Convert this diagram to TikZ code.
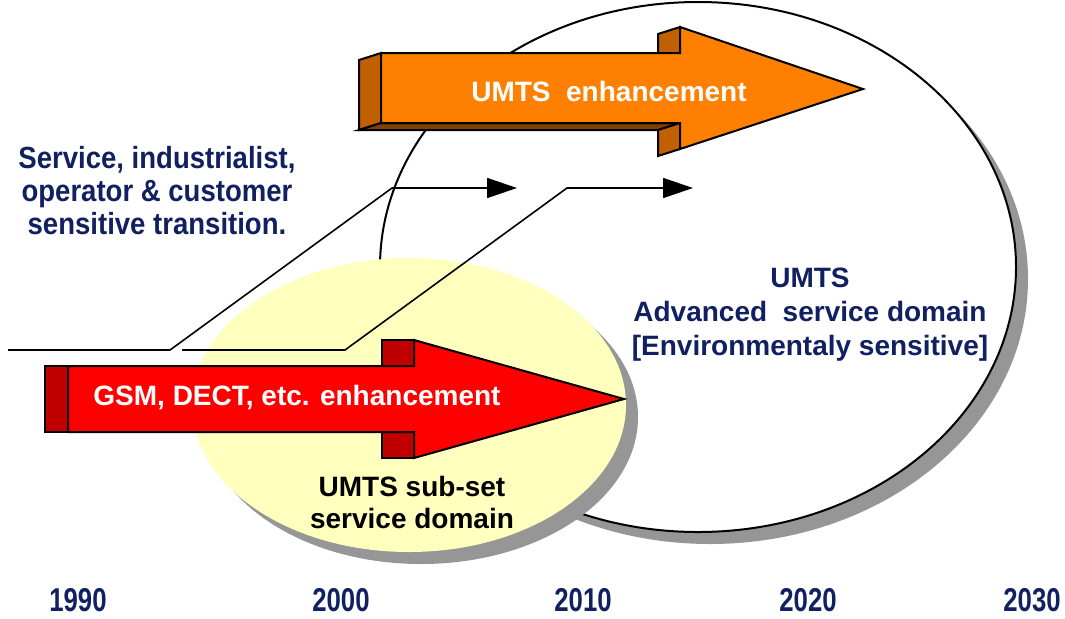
\documentclass[tikz,border=0pt]{standalone}
\usepackage{fontspec}
\setmainfont{Liberation Sans}
\newfontfamily\yearfont{Liberation Sans}[FakeStretch=0.78]
\newfontfamily\narrowfont{Liberation Sans}[FakeStretch=0.9]
\usetikzlibrary{arrows.meta,shapes.geometric,shadows}

\definecolor{navy}{RGB}{16,32,96}
\definecolor{umtsorange}{RGB}{255,128,0}
\definecolor{orangeside}{RGB}{192,96,0}
\definecolor{orangebase}{RGB}{128,64,0}
\definecolor{gsmred}{RGB}{255,0,0}
\definecolor{redside}{RGB}{192,0,0}
\definecolor{subsetyellow}{RGB}{255,255,190}
\definecolor{shadowgray}{RGB}{150,150,150}

\begin{document}
\begin{tikzpicture}[
  x=0.5pt, y=-0.5pt,
  servicezone/.style={ellipse, inner sep=0pt,
    general shadow={fill=shadowgray, shadow xshift=6pt, shadow yshift=-6pt}},
  facet/.style={draw=black, line width=1pt},
  link/.style={line width=0.8pt, -{Triangle[length=15pt,width=10pt]}},
  navytext/.style={text=navy, font=\bfseries\fontsize{14}{17}\selectfont, align=center, inner sep=0pt},
  darktext/.style={text=black, font=\bfseries\fontsize{14}{16}\selectfont, align=center, inner sep=0pt},
  arrowtext/.style={text=white, font=\bfseries\fontsize{14}{16}\selectfont, inner sep=0pt},
  yeartext/.style={text=navy, font=\yearfont\bfseries\fontsize{16.5}{18}\selectfont, inner sep=0pt},
]
  \useasboundingbox (0,0) rectangle (1065,618);

  % Advanced service domain
  \node[servicezone, fill=white, draw=black, line width=1pt,
        minimum width=318pt, minimum height=265pt] (advzone) at (698,267) {};

  % Sub-set service domain
  \node[servicezone, fill=subsetyellow,
        minimum width=217pt, minimum height=147pt] (subzone) at (409,405) {};

  % Transition lines
  \coordinate (ta) at (8,350);
  \coordinate (tb) at (170,350);
  \coordinate (tc) at (392,188);
  \coordinate (td) at (517,188);
  \draw[link] (ta) -- (tb) -- (tc) -- (td);

  \coordinate (ua) at (182,350);
  \coordinate (ub) at (345,350);
  \coordinate (uc) at (567,188);
  \coordinate (ud) at (693,188);
  \draw[link] (ua) -- (ub) -- (uc) -- (ud);

  % UMTS enhancement arrow (3D)
  \filldraw[facet, fill=orangeside] (381,53) -- (359,60) -- (359,130) -- (381,123) -- cycle;
  \filldraw[facet, fill=orangebase] (381,123) -- (680,123) -- (658,130) -- (359,130) -- cycle;
  \filldraw[facet, fill=orangeside] (680,27) -- (658,34) -- (658,53) -- (680,53) -- cycle;
  \filldraw[facet, fill=orangeside] (680,123) -- (658,130) -- (658,156) -- (680,149) -- cycle;
  \filldraw[facet, fill=umtsorange] (381,53) -- (680,53) -- (680,27) -- (863,89)
    -- (680,149) -- (680,123) -- (381,123) -- cycle;
  \node[arrowtext] (umtsenh) at (609,91) {UMTS\ \ enhancement};

  % GSM / DECT enhancement arrow (3D)
  \filldraw[facet, fill=redside] (45,366) rectangle (68,432);
  \filldraw[facet, fill=redside] (382,340) rectangle (414,366);
  \filldraw[facet, fill=redside] (382,432) rectangle (414,458);
  \filldraw[facet, fill=gsmred] (68,366) -- (414,366) -- (414,340) -- (624,399)
    -- (414,458) -- (414,432) -- (68,432) -- cycle;
  \node[arrowtext] (gsmenh) at (297,398) {GSM, DECT, etc. enhancement};

  % Labels
  \node[navytext, font=\narrowfont\bfseries\fontsize{15.3}{16.5}\selectfont] (transition) at (157,191)
    {Service, industrialist,\\operator \& customer\\sensitive transition.};
  \node[navytext] (advlabel) at (810,315)
    {UMTS\\Advanced\ \ service domain\\{[}Environmentaly sensitive{]}};
  \node[darktext] (sublabel) at (412,502) {UMTS sub-set\\service domain};

  % Time axis
  \foreach \yr/\xx in {1990/78, 2000/341, 2010/583, 2020/808, 2030/1032}
    \node[yeartext] (y\yr) at (\xx,600) {\yr};
\end{tikzpicture}
\end{document}
